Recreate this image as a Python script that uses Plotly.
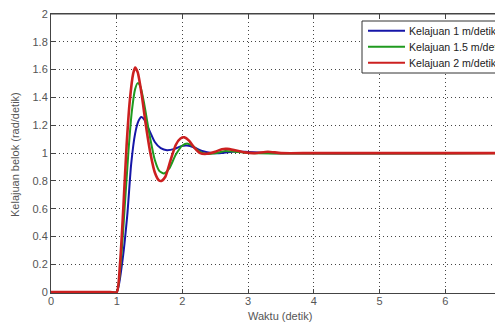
import plotly.graph_objects as go

# Data
t_blue = [0, 0.5, 0.9, 1.0, 1.08, 1.16, 1.22, 1.28, 1.33, 1.375, 1.42, 1.50, 1.58, 1.67, 1.765, 1.88, 1.98, 2.07, 2.18, 2.30, 2.45, 2.6, 2.8, 3.0, 3.3, 7.0]
v_blue = [0, 0, 0, 0, 0.2, 0.55, 0.92, 1.14, 1.23, 1.26, 1.24, 1.16, 1.08, 1.035, 1.02, 1.03, 1.05, 1.054, 1.04, 1.015, 1.0, 1.0, 1.012, 1.008, 1.0, 1.0]

t_green = [0, 0.5, 0.9, 1.0, 1.06, 1.12, 1.18, 1.23, 1.28, 1.32, 1.36, 1.42, 1.50, 1.58, 1.65, 1.72, 1.80, 1.90, 2.00, 2.08, 2.16, 2.25, 2.35, 2.50, 2.65, 2.80, 3.0, 7.0]
v_green = [0, 0, 0, 0, 0.2, 0.6, 1.02, 1.30, 1.46, 1.503, 1.48, 1.35, 1.13, 0.95, 0.87, 0.853, 0.89, 0.99, 1.055, 1.068, 1.05, 1.015, 0.995, 0.998, 1.015, 1.01, 1.0, 1.0]

t_red = [0, 0.5, 0.9, 1.0, 1.05, 1.10, 1.15, 1.20, 1.25, 1.28, 1.32, 1.38, 1.45, 1.52, 1.58, 1.64, 1.68, 1.74, 1.82, 1.90, 1.97, 2.03, 2.10, 2.18, 2.27, 2.37, 2.50, 2.60, 2.68, 2.80, 2.95, 3.10, 3.3, 3.5, 4.0, 7.0]
v_red = [0, 0, 0, 0, 0.2, 0.6, 1.05, 1.38, 1.57, 1.615, 1.58, 1.42, 1.18, 0.98, 0.86, 0.805, 0.80, 0.83, 0.95, 1.06, 1.105, 1.113, 1.09, 1.04, 1.00, 0.995, 1.01, 1.028, 1.03, 1.02, 1.005, 1.0, 1.01, 1.0, 1.0, 1.0]

names = ["Kelajuan 1 m/detik", "Kelajuan 1.5 m/detik", "Kelajuan 2 m/detik"]
colors = ["#1616a8", "#1f9a1f", "#cc2020"]
widths = [2, 2, 2.6]
x_ticks = [0, 1, 2, 3, 4, 5, 6]
y_ticks = [0, 0.2, 0.4, 0.6, 0.8, 1, 1.2, 1.4, 1.6, 1.8, 2]
y_tick_text = ["0", "0.2", "0.4", "0.6", "0.8", "1", "1.2", "1.4", "1.6", "1.8", "2"]

# Page body has an 8px margin; figure coordinates = window coordinates - 8
OFF = 8
W, H = 503, 322
L, T, B, R = 43, 6, 37, 0
PW, PH = W - L - R, H - T - B


def px(xw):  # window x pixel -> paper x
    return (xw - OFF - L) / PW


def py(yw):  # window y pixel -> paper y
    return (H - B - (yw - OFF)) / PH


fig = go.Figure()
series = [(t_blue, v_blue), (t_green, v_green), (t_red, v_red)]
for (t, v), n, c, w in zip(series, names, colors, widths):
    fig.add_trace(go.Scatter(x=t, y=v, mode="lines", name=n, showlegend=False,
                             line=dict(color=c, width=w, shape="spline", smoothing=0.6)))

axis_font = dict(family="Liberation Sans, Arial, sans-serif", size=11, color="#555555")
leg_font = dict(family="Liberation Sans, Arial, sans-serif", size=10.6, color="#222222")

shapes = [
    dict(type="line", xref="paper", yref="paper", x0=0, x1=1, y0=1, y1=1,
         line=dict(color="#444444", width=1), layer="above"),
    dict(type="rect", xref="paper", yref="paper", x0=px(362), x1=px(520),
         y0=py(73), y1=py(21), line=dict(color="#333333", width=1),
         fillcolor="white", layer="above"),
]
annotations = [
    dict(text="Waktu (detik)", x=px(280), y=py(316), xref="paper", yref="paper",
         showarrow=False, font=axis_font, xanchor="center", yanchor="middle"),
    dict(text="Kelajuan belok (rad/detik)", textangle=-90, x=px(15), y=py(155),
         xref="paper", yref="paper", showarrow=False, font=axis_font,
         xanchor="center", yanchor="middle"),
]
for i, (n, c) in enumerate(zip(names, colors)):
    yw = 30.7 + 16 * i
    shapes.append(dict(type="line", xref="paper", yref="paper", x0=px(368), x1=px(405),
                       y0=py(yw), y1=py(yw), line=dict(color=c, width=2), layer="above"))
    annotations.append(dict(text=n, x=px(407), y=py(yw), xref="paper", yref="paper",
                            showarrow=False, font=leg_font, xanchor="left",
                            yanchor="middle"))

fig.update_layout(
    width=W, height=H,
    margin=dict(l=L, r=R, t=T, b=B),
    paper_bgcolor="white", plot_bgcolor="white",
    font=axis_font,
    showlegend=False,
    xaxis=dict(range=[0, 7], tickvals=x_ticks, ticks="inside", ticklen=4,
               tickcolor="#444444", showline=True, linecolor="#444444", linewidth=1,
               mirror="ticks", showgrid=True, gridcolor="#444444", griddash="1px,3px",
               gridwidth=1, zeroline=False, tickfont=axis_font, ticklabelstandoff=-2,
               ticklabeloverflow="allow", layer="below traces"),
    yaxis=dict(range=[-0.006, 2], tickvals=y_ticks, ticktext=y_tick_text, ticks="inside",
               ticklen=4, tickcolor="#444444", showline=True, linecolor="#444444",
               linewidth=1, showgrid=True, gridcolor="#444444", griddash="1px,3px",
               gridwidth=1, zeroline=False, tickfont=axis_font,
               ticklabeloverflow="allow"),
    shapes=shapes,
    annotations=annotations,
)

fig.write_html("out.html")
